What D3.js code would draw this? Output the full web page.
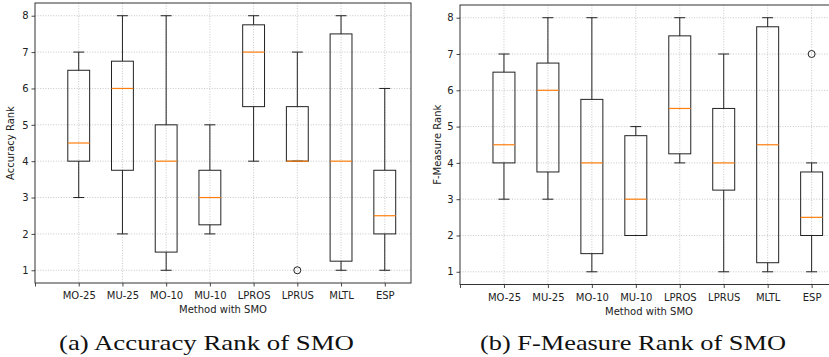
<!DOCTYPE html>
<html>
<head>
<meta charset="utf-8">
<script src="https://cdn.jsdelivr.net/npm/d3@7"></script>
<style>
  body { margin: 0; background: #fff; }
  svg { display: block; }
  text { font-family: "DejaVu Sans", sans-serif; }
</style>
</head>
<body>
<div id="chart"></div>
<script>
// box plot data
var methods = ["MO-25", "MU-25", "MO-10", "MU-10", "LPROS", "LPRUS", "MLTL", "ESP"];
var yTicks = [1, 2, 3, 4, 5, 6, 7, 8];

// accuracy rank
var accLow  = [3, 2, 1, 2, 4, 4, 1, 1];
var accQ1   = [4, 3.75, 1.5, 2.25, 5.5, 4, 1.25, 2];
var accMed  = [4.5, 6, 4, 3, 7, 4, 4, 2.5];
var accQ3   = [6.5, 6.75, 5, 3.75, 7.75, 5.5, 7.5, 3.75];
var accHigh = [7, 8, 8, 5, 8, 7, 8, 6];
var accOut  = [[], [], [], [], [], [1], [], []];

// f-measure rank
var fmLow  = [3, 3, 1, 2, 4, 1, 1, 1];
var fmQ1   = [4, 3.75, 1.5, 2, 4.25, 3.25, 1.25, 2];
var fmMed  = [4.5, 6, 4, 3, 5.5, 4, 4.5, 2.5];
var fmQ3   = [6.5, 6.75, 5.75, 4.75, 7.5, 5.5, 7.75, 3.75];
var fmHigh = [7, 8, 8, 5, 8, 7, 8, 4];
var fmOut  = [[], [], [], [], [], [], [], [7]];

var svg = d3.select("#chart")
  .append("svg")
  .attr("width", 829)
  .attr("height", 357);

function drawPanel(p) {
  var xScale = d3.scaleLinear().domain([0, 8.6]).range([p.left, p.right]);
  var yScale = d3.scaleLinear().domain([0.65, 8.35]).range([p.bottom, p.top]);

  var g = svg.append("g");
  var rows = methods.map(function(m, i) {
    return { name: m, pos: i + 1, low: p.low[i], q1: p.q1[i], med: p.med[i],
             q3: p.q3[i], high: p.high[i], out: p.out[i] };
  });

  // grid
  g.selectAll(".hgrid").data(yTicks).enter().append("line")
    .attr("x1", p.left).attr("x2", p.right)
    .attr("y1", d => yScale(d)).attr("y2", d => yScale(d))
    .attr("stroke", "#b8b8b8").attr("stroke-width", 0.8)
    .attr("stroke-dasharray", "1,1.6");
  g.selectAll(".vgrid").data(rows).enter().append("line")
    .attr("x1", d => xScale(d.pos)).attr("x2", d => xScale(d.pos))
    .attr("y1", p.top).attr("y2", p.bottom)
    .attr("stroke", "#b8b8b8").attr("stroke-width", 0.8)
    .attr("stroke-dasharray", "1,1.6");

  // axes
  var xAxis = d3.axisBottom(xScale)
    .tickValues([0].concat(rows.map(d => d.pos)))
    .tickFormat(d => d === 0 ? "" : methods[d - 1])
    .tickSize(3.5).tickSizeOuter(0);
  var yAxis = d3.axisLeft(yScale).tickValues(yTicks).tickSize(3.5).tickSizeOuter(0);

  var gx = g.append("g").attr("transform", `translate(0, ${p.bottom})`).call(xAxis);
  var gy = g.append("g").attr("transform", `translate(${p.left}, 0)`).call(yAxis);
  [gx, gy].forEach(function(a) {
    a.select(".domain").remove();
    a.selectAll("line").attr("stroke", "#333").attr("stroke-width", 0.9);
    a.selectAll("text").attr("fill", "#222").style("font-size", "10px")
      .style("font-family", "DejaVu Sans, sans-serif");
  });
  gx.selectAll("text").attr("dy", "0.95em");

  // frame
  g.append("rect")
    .attr("x", p.left).attr("y", p.top)
    .attr("width", p.right - p.left).attr("height", p.bottom - p.top)
    .attr("fill", "none").attr("stroke", "#333").attr("stroke-width", 1);

  var bw = xScale(0.25) - xScale(0);
  var cw = xScale(0.125) - xScale(0);
  var box = g.selectAll(".box").data(rows).enter().append("g");

  // whiskers
  box.append("line")
    .attr("x1", d => xScale(d.pos)).attr("x2", d => xScale(d.pos))
    .attr("y1", d => yScale(d.low)).attr("y2", d => yScale(d.q1))
    .attr("stroke", "#222").attr("stroke-width", 1);
  box.append("line")
    .attr("x1", d => xScale(d.pos)).attr("x2", d => xScale(d.pos))
    .attr("y1", d => yScale(d.q3)).attr("y2", d => yScale(d.high))
    .attr("stroke", "#222").attr("stroke-width", 1);
  // caps
  box.append("line")
    .attr("x1", d => xScale(d.pos) - cw).attr("x2", d => xScale(d.pos) + cw)
    .attr("y1", d => yScale(d.low)).attr("y2", d => yScale(d.low))
    .attr("stroke", "#222").attr("stroke-width", 1);
  box.append("line")
    .attr("x1", d => xScale(d.pos) - cw).attr("x2", d => xScale(d.pos) + cw)
    .attr("y1", d => yScale(d.high)).attr("y2", d => yScale(d.high))
    .attr("stroke", "#222").attr("stroke-width", 1);
  // box
  box.append("rect")
    .attr("x", d => xScale(d.pos) - bw)
    .attr("y", d => yScale(d.q3))
    .attr("width", bw * 2)
    .attr("height", d => yScale(d.q1) - yScale(d.q3))
    .attr("fill", "none").attr("stroke", "#222").attr("stroke-width", 1);
  // median
  box.append("line")
    .attr("x1", d => xScale(d.pos) - bw).attr("x2", d => xScale(d.pos) + bw)
    .attr("y1", d => yScale(d.med)).attr("y2", d => yScale(d.med))
    .attr("stroke", "#ff7f0e").attr("stroke-width", 1.2);
  // outliers
  box.selectAll("circle").data(d => d.out.map(v => ({ pos: d.pos, v: v })))
    .enter().append("circle")
    .attr("cx", d => xScale(d.pos)).attr("cy", d => yScale(d.v))
    .attr("r", 3.5).attr("fill", "none").attr("stroke", "#222").attr("stroke-width", 1);

  // labels
  g.append("text")
    .attr("transform", `translate(${p.ylabelX}, ${(p.top + p.bottom) / 2}) rotate(-90)`)
    .attr("text-anchor", "middle").attr("dy", "0.35em")
    .style("font-size", "10px").attr("fill", "#222")
    .text(p.ylabel);
  g.append("text")
    .attr("x", (p.left + p.right) / 2).attr("y", p.bottom + 30)
    .attr("text-anchor", "middle")
    .style("font-size", "10px").attr("fill", "#222")
    .text("Method with SMO");

  // caption
  svg.append("text")
    .attr("x", p.capX).attr("y", 350)
    .attr("textLength", p.capW).attr("lengthAdjust", "spacingAndGlyphs")
    .style("font-family", "Liberation Serif, serif")
    .style("font-size", "22px").attr("fill", "#111")
    .text(p.caption);
}

drawPanel({ left: 35, right: 411, top: 3, bottom: 283, ylabelX: 10,
  ylabel: "Accuracy Rank", caption: "(a) Accuracy Rank of SMO", capX: 59, capW: 295,
  low: accLow, q1: accQ1, med: accMed, q3: accQ3, high: accHigh, out: accOut });

drawPanel({ left: 460, right: 838, top: 5, bottom: 284.5, ylabelX: 437,
  ylabel: "F-Measure Rank", caption: "(b) F-Measure Rank of SMO", capX: 480, capW: 306,
  low: fmLow, q1: fmQ1, med: fmMed, q3: fmQ3, high: fmHigh, out: fmOut });
</script>
</body>
</html>
